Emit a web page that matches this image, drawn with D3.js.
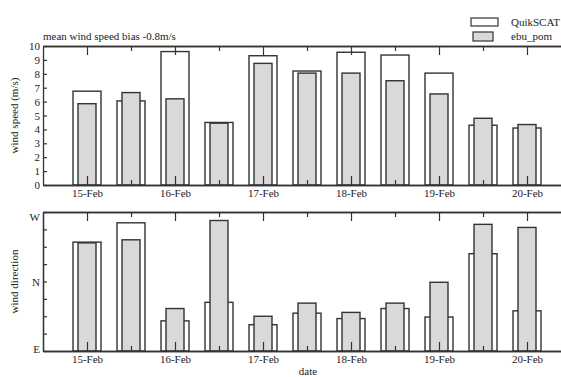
<!DOCTYPE html>
<html>
<head>
<meta charset="utf-8">
<script src="https://cdn.jsdelivr.net/npm/d3@7"></script>
<style>
  body { margin: 0; background: #fff; }
  text { font-family: "Liberation Serif", "DejaVu Serif", serif; fill: #222; }
</style>
</head>
<body>
<svg width="561" height="377"></svg>
<script>
// half-day samples, 15-Feb 00:00 to 20-Feb 00:00
const times = ["2008-02-15T00:00", "2008-02-15T12:00", "2008-02-16T00:00", "2008-02-16T12:00",
  "2008-02-17T00:00", "2008-02-17T12:00", "2008-02-18T00:00", "2008-02-18T12:00",
  "2008-02-19T00:00", "2008-02-19T12:00", "2008-02-20T00:00"];
const speedQuik = [6.75, 6.05, 9.6, 4.5, 9.3, 8.2, 9.55, 9.35, 8.05, 4.3, 4.1];
const speedEbu = [5.85, 6.65, 6.2, 4.45, 8.75, 8.05, 8.05, 7.5, 6.55, 4.8, 4.35];
// direction in degrees counted from E (0) through N (90) to W (180)
const dirQuik = [141, 166, 39, 63, 34, 49, 42, 55, 44, 126, 52];
const dirEbu = [140, 144, 55, 169, 45, 62, 50, 62, 89, 164, 160];
const dirTicks = [0, 90, 180];
const dirLabels = ["E", "N", "W"];
const seriesNames = ["QuikSCAT", "ebu_pom"];

const parse = d3.timeParse("%Y-%m-%dT%H:%M");
const dates = times.map(parse);

const svg = d3.select("svg");
const left = 43, right = 571;
const lineCol = "#333";

const x = d3.scaleTime()
  .domain([parse("2008-02-14T12:00"), parse("2008-02-20T12:00")])
  .range([left, right]);

const days = d3.timeDay.range(parse("2008-02-15T00:00"), parse("2008-02-20T01:00"));
const halfDays = days.map(d => d3.timeHour.offset(d, 12)).filter(d => d < x.domain()[1]);

function panel(top, bottom, yDomain, quik, ebu, opts) {
  const y = d3.scaleLinear().domain(yDomain).range([bottom, top]);
  const g = svg.append("g");

  // QuikSCAT bars (outline)
  g.selectAll(".q").data(quik).enter().append("rect")
    .attr("x", (d, i) => x(dates[i]) - 14)
    .attr("width", 28)
    .attr("y", d => y(d))
    .attr("height", d => bottom - y(d))
    .attr("fill", "#fff")
    .attr("stroke", lineCol)
    .attr("stroke-width", 1.4);

  // ebu_pom bars (gray)
  g.selectAll(".e").data(ebu).enter().append("rect")
    .attr("x", (d, i) => x(dates[i]) - 9)
    .attr("width", 18)
    .attr("y", d => y(d))
    .attr("height", d => bottom - y(d))
    .attr("fill", "#d9d9d9")
    .attr("stroke", lineCol)
    .attr("stroke-width", 1.4);

  // axes, ticks pointing inward
  g.append("g")
    .attr("transform", `translate(0,${bottom})`)
    .call(d3.axisBottom(x).tickValues(days).tickFormat(d3.timeFormat("%d-%b"))
      .tickSizeInner(-9).tickSizeOuter(0).tickPadding(4));
  g.append("g")
    .attr("transform", `translate(0,${bottom})`)
    .call(d3.axisBottom(x).tickValues(halfDays).tickFormat("").tickSizeInner(-5).tickSizeOuter(0));
  g.append("g")
    .attr("transform", `translate(0,${top})`)
    .call(d3.axisTop(x).tickValues(days).tickFormat("").tickSizeInner(-9).tickSizeOuter(0));
  g.append("g")
    .attr("transform", `translate(0,${top})`)
    .call(d3.axisTop(x).tickValues(halfDays).tickFormat("").tickSizeInner(-5).tickSizeOuter(0));

  const yAxis = d3.axisLeft(y).tickSizeInner(-4).tickSizeOuter(0).tickPadding(3);
  if (opts.tickValues) yAxis.tickValues(opts.tickValues);
  if (opts.tickFormat) yAxis.tickFormat(opts.tickFormat);
  const ya = g.append("g").attr("transform", `translate(${left},0)`).call(yAxis);
  if (opts.labelShift) {
    ya.selectAll(".tick text").attr("dy", (d, i) => (0.32 * 11 + (opts.labelShift[i] || 0)) + "px");
  }
  if (opts.minor) {
    g.append("g").attr("transform", `translate(${left},0)`)
      .call(d3.axisLeft(y).tickValues(opts.minor).tickFormat("").tickSizeInner(-4).tickSizeOuter(0));
  }

  g.selectAll(".domain").attr("stroke", lineCol).attr("stroke-width", 1.3);
  g.selectAll(".tick line").attr("stroke", lineCol).attr("stroke-width", 1.2);
  g.selectAll(".tick text").attr("font-size", 11).attr("fill", "#222")
    .attr("font-family", "Liberation Serif, serif");

  g.append("text")
    .attr("transform", `translate(18,${(top + bottom) / 2}) rotate(-90)`)
    .attr("text-anchor", "middle")
    .attr("font-size", 11)
    .text(opts.label);
  return y;
}

panel(46, 185, [0, 10], speedQuik, speedEbu, {
  tickValues: d3.range(0, 11),
  tickFormat: d3.format("d"),
  label: "wind speed (m/s)"
});

panel(212, 351, [0, 180], dirQuik, dirEbu, {
  tickValues: dirTicks,
  tickFormat: (d, i) => dirLabels[i],
  labelShift: [-2, 0, 5],
  minor: d3.range(0, 181, 22.5).filter(v => !dirTicks.includes(v)),
  label: "wind direction"
});

svg.append("text")
  .attr("x", 43).attr("y", 40)
  .attr("font-size", 11)
  .text("mean wind speed bias -0.8m/s");

svg.append("text")
  .attr("x", 308).attr("y", 375)
  .attr("text-anchor", "middle")
  .attr("font-size", 11)
  .text("date");

// legend
const legend = svg.append("g");
legend.append("rect").attr("x", 471).attr("y", 18).attr("width", 27).attr("height", 8)
  .attr("fill", "#fff").attr("stroke", lineCol).attr("stroke-width", 1.2);
legend.append("rect").attr("x", 473).attr("y", 32).attr("width", 20).attr("height", 9)
  .attr("fill", "#d9d9d9").attr("stroke", lineCol).attr("stroke-width", 1.2);
legend.selectAll("text").data(seriesNames).enter().append("text")
  .attr("x", 511).attr("y", (d, i) => 26 + i * 14)
  .attr("font-size", 11)
  .text(d => d);
</script>
</body>
</html>
